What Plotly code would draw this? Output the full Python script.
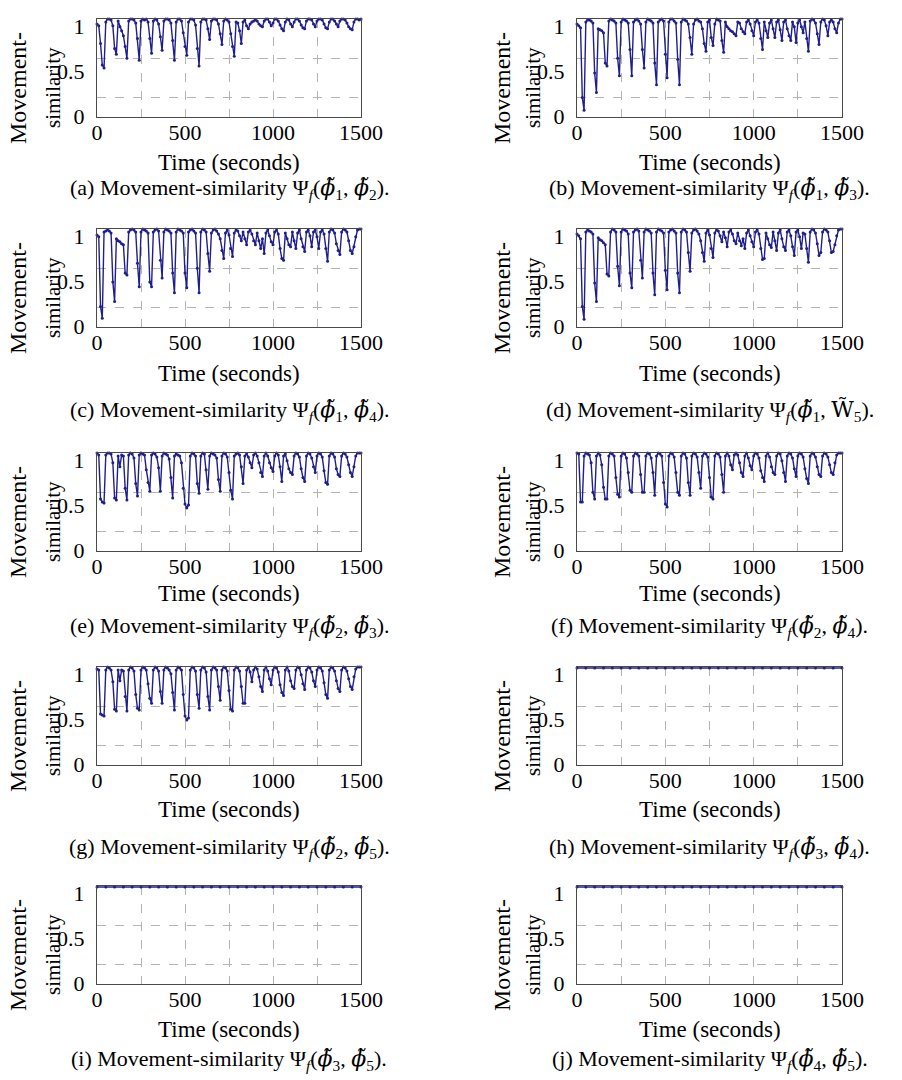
import plotly.graph_objects as go

# sample times (s) for the measured series, and a coarser grid for the flat ones
TIME = list(range(0, 1501, 10))
FLAT_TIME = list(range(0, 1501, 50))

SIM_A = [
    0.95, 0.93, 0.75, 0.53, 0.50, 0.97, 1.0, 1.0, 0.99, 0.93,
    0.70, 0.64, 0.98, 0.92, 0.88, 0.83, 0.72, 0.60, 0.98, 1.0,
    1.0, 0.99, 0.96, 0.80, 0.58, 0.98, 1.0, 0.99, 1.0, 0.97,
    0.80, 0.65, 0.98, 1.0, 0.99, 0.95, 0.82, 0.68, 0.98, 1.0,
    1.0, 0.99, 0.96, 0.78, 0.58, 0.97, 1.0, 1.0, 0.98, 0.86,
    0.72, 0.63, 0.97, 1.0, 1.0, 0.99, 0.94, 0.70, 0.52, 0.97,
    1.0, 1.0, 0.99, 0.90, 0.79, 0.98, 1.0, 1.0, 0.99, 0.95,
    0.85, 0.74, 0.98, 1.0, 0.99, 0.97, 0.85, 0.72, 0.62, 0.97,
    0.96, 0.88, 0.75, 0.97, 0.99, 0.93, 0.90, 0.95, 0.97, 0.98,
    0.99, 0.98, 0.95, 0.93, 0.92, 0.98, 1.0, 1.0, 0.97, 0.93,
    0.96, 1.0, 1.0, 0.98, 0.94, 0.90, 0.88, 0.97, 1.0, 0.99,
    0.95, 0.92, 0.97, 1.0, 1.0, 0.98, 0.94, 0.91, 0.90, 0.98,
    1.0, 1.0, 0.99, 0.95, 0.92, 0.98, 1.0, 1.0, 0.99, 0.95,
    0.91, 0.90, 0.97, 1.0, 1.0, 0.98, 0.95, 0.92, 0.98, 1.0,
    1.0, 0.99, 0.96, 0.92, 0.90, 0.89, 0.97, 1.0, 1.0, 0.99,
    1.0,
]

SIM_B = [
    0.95, 0.93, 0.91, 0.20, 0.07, 0.97, 0.99, 0.99, 0.98, 0.96,
    0.45, 0.25, 0.90, 0.89, 0.88, 0.86, 0.55, 0.52, 0.98, 1.0,
    0.99, 0.98, 0.96, 0.60, 0.42, 0.97, 1.0, 0.99, 0.98, 0.96,
    0.69, 0.42, 0.97, 0.99, 1.0, 0.98, 0.95, 0.69, 0.50, 0.97,
    1.0, 0.99, 0.98, 0.96, 0.55, 0.33, 0.97, 0.99, 1.0, 0.98,
    0.64, 0.40, 0.97, 1.0, 1.0, 0.98, 0.96, 0.59, 0.33, 0.97,
    1.0, 0.99, 0.98, 0.95, 0.81, 0.64, 0.95, 0.99, 1.0, 0.98,
    0.97, 0.90, 0.75, 0.67, 0.97, 0.99, 0.81, 0.73, 0.95, 1.0,
    0.99, 0.98, 0.78, 0.66, 0.97, 0.92, 0.90, 0.88, 0.87, 0.85,
    0.83, 0.97, 0.96, 0.90, 0.87, 0.85, 0.97, 0.99, 0.95, 0.88,
    0.83, 0.97, 0.99, 0.96, 0.80, 0.69, 0.97, 0.88, 0.81, 0.96,
    0.99, 0.90, 0.81, 0.97, 0.99, 0.89, 0.78, 0.97, 0.99, 0.90,
    0.83, 0.78, 0.97, 0.92, 0.76, 0.96, 0.99, 0.92, 0.86, 0.97,
    0.80, 0.67, 0.98, 1.0, 0.99, 0.96, 0.85, 0.74, 0.97, 1.0,
    0.99, 0.93, 0.83, 0.97, 0.99, 0.97, 0.90, 0.86, 0.96, 1.0,
    1.0,
]

SIM_C = [
    0.94, 0.92, 0.21, 0.09, 0.97, 0.98, 0.99, 0.98, 0.96, 0.46,
    0.26, 0.90, 0.88, 0.87, 0.85, 0.84, 0.55, 0.53, 0.97, 0.99,
    1.0, 0.99, 0.97, 0.65, 0.41, 0.97, 1.0, 0.99, 0.98, 0.96,
    0.46, 0.41, 0.97, 0.99, 1.0, 0.98, 0.68, 0.50, 0.97, 1.0,
    0.99, 0.98, 0.96, 0.55, 0.35, 0.97, 1.0, 0.99, 0.98, 0.96,
    0.55, 0.40, 0.97, 0.99, 1.0, 0.98, 0.96, 0.60, 0.35, 0.97,
    1.0, 0.99, 0.97, 0.75, 0.57, 0.96, 0.99, 1.0, 0.98, 0.95,
    0.90, 0.78, 0.70, 0.96, 0.99, 0.94, 0.80, 0.72, 0.96, 0.99,
    0.98, 0.93, 0.88, 0.97, 0.90, 0.84, 0.97, 0.99, 0.95, 0.88,
    0.84, 0.96, 0.88, 0.80, 0.90, 0.75, 0.96, 0.99, 0.93, 0.87,
    0.84, 0.97, 0.99, 0.95, 0.80, 0.70, 0.68, 0.96, 0.90, 0.84,
    0.82, 0.97, 0.88, 0.80, 0.96, 0.99, 0.90, 0.82, 0.77, 0.97,
    0.99, 0.93, 0.82, 0.97, 0.99, 0.92, 0.80, 0.97, 0.99, 0.95,
    0.80, 0.67, 0.97, 1.0, 0.99, 0.96, 0.85, 0.78, 0.74, 0.97,
    1.0, 0.99, 0.97, 0.88, 0.78, 0.75, 0.82, 0.92, 0.99, 1.0,
    1.0,
]

SIM_D = [
    0.95, 0.93, 0.90, 0.21, 0.08, 0.97, 0.99, 0.98, 0.97, 0.95,
    0.45, 0.26, 0.91, 0.89, 0.88, 0.86, 0.84, 0.54, 0.52, 0.97,
    1.0, 0.99, 0.97, 0.62, 0.42, 0.97, 1.0, 0.99, 0.98, 0.95,
    0.55, 0.40, 0.97, 0.99, 1.0, 0.98, 0.68, 0.50, 0.97, 1.0,
    0.99, 0.98, 0.96, 0.55, 0.33, 0.97, 1.0, 0.99, 0.98, 0.96,
    0.58, 0.38, 0.97, 0.99, 1.0, 0.98, 0.96, 0.55, 0.35, 0.97,
    1.0, 0.99, 0.97, 0.76, 0.57, 0.96, 0.99, 1.0, 0.98, 0.95,
    0.88, 0.76, 0.67, 0.96, 0.99, 0.94, 0.80, 0.71, 0.96, 0.99,
    0.98, 0.93, 0.87, 0.97, 0.91, 0.82, 0.97, 0.99, 0.95, 0.88,
    0.85, 0.96, 0.88, 0.83, 0.90, 0.80, 0.96, 0.99, 0.93, 0.87,
    0.82, 0.97, 0.99, 0.95, 0.80, 0.69, 0.70, 0.96, 0.90, 0.84,
    0.81, 0.97, 0.88, 0.78, 0.96, 0.99, 0.90, 0.82, 0.78, 0.97,
    0.99, 0.93, 0.82, 0.73, 0.97, 0.99, 0.92, 0.80, 0.96, 0.95,
    0.80, 0.66, 0.97, 1.0, 0.99, 0.96, 0.85, 0.73, 0.76, 0.97,
    1.0, 0.99, 0.97, 0.88, 0.76, 0.77, 0.84, 0.93, 0.99, 1.0,
    1.0,
]

SIM_E = [
    1.0, 0.98, 0.53, 0.50, 0.49, 0.98, 1.0, 1.0, 0.99, 0.90,
    0.54, 0.52, 0.97, 0.86, 0.98, 0.97, 0.64, 0.52, 0.98, 1.0,
    0.99, 0.95, 0.69, 0.56, 0.98, 1.0, 0.99, 0.98, 0.83, 0.70,
    0.61, 0.98, 1.0, 0.99, 0.96, 0.85, 0.61, 0.97, 1.0, 0.99,
    0.98, 0.94, 0.75, 0.54, 0.97, 0.99, 0.98, 0.97, 0.90, 0.64,
    0.48, 0.44, 0.47, 0.97, 1.0, 0.99, 0.97, 0.69, 0.59, 0.97,
    1.0, 0.99, 0.83, 0.63, 0.97, 1.0, 0.99, 0.98, 0.95, 0.73,
    0.61, 0.97, 1.0, 0.99, 0.96, 0.80, 0.62, 0.53, 0.97, 0.99,
    1.0, 0.98, 0.86, 0.69, 0.97, 0.99, 0.96, 0.90, 0.85, 0.98,
    1.0, 0.97, 0.90, 0.80, 0.76, 0.97, 1.0, 0.97, 0.90, 0.85,
    0.81, 0.97, 1.0, 0.98, 0.86, 0.71, 0.97, 0.99, 0.92, 0.84,
    0.80, 0.78, 0.97, 1.0, 0.99, 0.96, 0.84, 0.75, 0.71, 0.97,
    1.0, 0.99, 0.95, 0.86, 0.80, 0.97, 1.0, 0.99, 0.96, 0.82,
    0.70, 0.68, 0.97, 1.0, 0.99, 0.96, 0.84, 0.78, 0.76, 0.97,
    1.0, 0.99, 0.96, 0.88, 0.80, 0.76, 0.86, 0.97, 1.0, 1.0,
    1.0,
]

SIM_F = [
    1.0, 0.99, 0.50, 0.50, 0.97, 1.0, 0.99, 0.98, 0.90, 0.60,
    0.53, 0.97, 1.0, 0.98, 0.88, 0.65, 0.53, 0.53, 0.97, 1.0,
    0.99, 0.97, 0.75, 0.58, 0.55, 0.97, 1.0, 0.99, 0.95, 0.80,
    0.62, 0.60, 0.97, 1.0, 0.99, 0.97, 0.78, 0.60, 0.60, 0.97,
    1.0, 0.99, 0.95, 0.80, 0.57, 0.97, 1.0, 0.99, 0.97, 0.70,
    0.48, 0.45, 0.97, 1.0, 0.99, 0.96, 0.80, 0.60, 0.57, 0.97,
    1.0, 0.99, 0.95, 0.70, 0.57, 0.97, 1.0, 0.99, 0.96, 0.80,
    0.64, 0.97, 1.0, 0.99, 0.96, 0.75, 0.55, 0.53, 0.97, 1.0,
    0.99, 0.96, 0.78, 0.60, 0.97, 1.0, 0.97, 0.88, 0.83, 0.98,
    1.0, 0.98, 0.90, 0.80, 0.76, 0.97, 1.0, 0.95, 0.87, 0.83,
    0.97, 1.0, 0.99, 0.95, 0.82, 0.75, 0.71, 0.97, 1.0, 0.96,
    0.86, 0.80, 0.78, 0.97, 1.0, 0.99, 0.92, 0.80, 0.71, 0.97,
    1.0, 0.99, 0.95, 0.84, 0.76, 0.97, 1.0, 0.99, 0.96, 0.84,
    0.74, 0.69, 0.97, 1.0, 0.99, 0.96, 0.86, 0.78, 0.76, 0.97,
    1.0, 0.99, 0.96, 0.88, 0.80, 0.78, 0.90, 0.98, 1.0, 1.0,
    1.0,
]

SIM_G = [
    0.98, 0.97, 0.52, 0.51, 0.50, 0.97, 1.0, 0.99, 0.97, 0.85,
    0.57, 0.55, 0.97, 0.86, 0.97, 0.96, 0.70, 0.55, 0.97, 1.0,
    0.99, 0.96, 0.72, 0.58, 0.56, 0.97, 1.0, 0.99, 0.97, 0.83,
    0.68, 0.63, 0.97, 1.0, 0.99, 0.96, 0.75, 0.63, 0.97, 1.0,
    0.99, 0.97, 0.93, 0.74, 0.56, 0.97, 1.0, 0.99, 0.97, 0.72,
    0.50, 0.46, 0.48, 0.97, 1.0, 0.99, 0.96, 0.72, 0.58, 0.97,
    1.0, 0.99, 0.95, 0.70, 0.56, 0.97, 1.0, 0.99, 0.97, 0.80,
    0.66, 0.97, 1.0, 0.99, 0.96, 0.76, 0.57, 0.55, 0.97, 1.0,
    0.99, 0.96, 0.80, 0.63, 0.63, 0.97, 1.0, 0.95, 0.85, 0.97,
    1.0, 0.98, 0.90, 0.80, 0.75, 0.97, 1.0, 0.96, 0.88, 0.82,
    0.97, 1.0, 0.99, 0.95, 0.82, 0.74, 0.71, 0.97, 1.0, 0.96,
    0.86, 0.80, 0.78, 0.97, 1.0, 0.99, 0.92, 0.83, 0.77, 0.97,
    1.0, 0.99, 0.95, 0.86, 0.80, 0.97, 1.0, 0.99, 0.96, 0.84,
    0.72, 0.68, 0.97, 1.0, 0.99, 0.96, 0.86, 0.78, 0.75, 0.97,
    1.0, 0.99, 0.96, 0.88, 0.80, 0.77, 0.90, 0.98, 1.0, 1.0,
    1.0,
]

FLAT_H = [0.99, 0.99, 0.99, 0.99, 0.99, 0.99, 0.99, 0.99, 0.99, 0.99, 0.99,
          0.99, 0.99, 0.99, 0.99, 0.99, 0.99, 0.99, 0.99, 0.99, 0.99,
          0.99, 0.99, 0.99, 0.99, 0.99, 0.99, 0.99, 0.99, 0.99, 0.99]
FLAT_I = [0.99, 0.99, 0.99, 0.99, 0.99, 0.99, 0.99, 0.99, 0.99, 0.99, 0.99,
          0.99, 0.99, 0.99, 0.99, 0.99, 0.99, 0.99, 0.99, 0.99, 0.99,
          0.99, 0.99, 0.99, 0.99, 0.99, 0.99, 0.99, 0.99, 0.99, 0.99]
FLAT_J = [0.99, 0.99, 0.99, 0.99, 0.99, 0.99, 0.99, 0.99, 0.99, 0.99, 0.99,
          0.99, 0.99, 0.99, 0.99, 0.99, 0.99, 0.99, 0.99, 0.99, 0.99,
          0.99, 0.99, 0.99, 0.99, 0.99, 0.99, 0.99, 0.99, 0.99, 0.99]

X_TICKS = [0, 500, 1000, 1500]
Y_TICK_TEXT = ["0", "0.5", "1"]

PANELS = [
    ("a", TIME, SIM_A, ("ϕ", "1"), ("ϕ", "2")),
    ("b", TIME, SIM_B, ("ϕ", "1"), ("ϕ", "3")),
    ("c", TIME, SIM_C, ("ϕ", "1"), ("ϕ", "4")),
    ("d", TIME, SIM_D, ("ϕ", "1"), ("W", "5")),
    ("e", TIME, SIM_E, ("ϕ", "2"), ("ϕ", "3")),
    ("f", TIME, SIM_F, ("ϕ", "2"), ("ϕ", "4")),
    ("g", TIME, SIM_G, ("ϕ", "2"), ("ϕ", "5")),
    ("h", FLAT_TIME, FLAT_H, ("ϕ", "3"), ("ϕ", "4")),
    ("i", FLAT_TIME, FLAT_I, ("ϕ", "3"), ("ϕ", "5")),
    ("j", FLAT_TIME, FLAT_J, ("ϕ", "4"), ("ϕ", "5")),
]

for _, t, v, _, _ in PANELS:
    assert len(t) == len(v), (len(t), len(v))

# layout, in pixels of the 902x1080 page
W, H = 902, 1080
COL_LEFT = [97, 577]
COL_RIGHT = [361, 842]
ROW_TOP = [19, 229, 453, 667, 886]
PLOT_H = 98
TIME_GAP = [45, 46, 42, 44, 45]
CAPTION_GAP = [72, 84, 76, 83, 76]
YLAB_SHIFT = [-79, -75]

FONT = "Liberation Serif, Times New Roman, serif"
LINE_COLOR = "#1f1f8c"
GRID = dict(showgrid=True, gridcolor="#b4b4b4", griddash="dash", gridwidth=1)
TEXT = dict(showarrow=False, xanchor="center", yanchor="middle")


def sym(letter, sub):
    # tilde-accented symbol; DejaVu Serif keeps the combining mark on its base
    style = "font-family:'DejaVu Serif'"
    if letter != "W":
        style += ";font-style:italic"
    return f"<span style=\"{style}\">{letter}\u0303</span><sub>{sub}</sub>"


def caption(tag, first, second):
    return (f"({tag}) Movement-similarity Ψ<sub><i>f</i></sub>"
            f"({sym(*first)}, {sym(*second)}).")


fig = go.Figure()
annotations = []
layout = {}

for k, (tag, t, vals, first, second) in enumerate(PANELS):
    row, col = divmod(k, 2)
    n = k + 1
    xname = "x" if n == 1 else f"x{n}"
    yname = "y" if n == 1 else f"y{n}"

    fig.add_trace(go.Scatter(
        x=t, y=vals, xaxis=xname, yaxis=yname, mode="lines+markers",
        line=dict(color=LINE_COLOR, width=1.4),
        marker=dict(size=3, color=LINE_COLOR),
        cliponaxis=False, showlegend=False,
    ))

    top = ROW_TOP[row]
    layout["xaxis" if n == 1 else f"xaxis{n}"] = dict(
        domain=[COL_LEFT[col] / W, COL_RIGHT[col] / W],
        anchor=yname, range=[0, 1500], tickvals=X_TICKS, automargin=False,
        ticks="", ticklabelstandoff=-4,
        showline=True, mirror=True, linecolor="#4a4a4a", linewidth=1,
        tickfont=dict(family=FONT, size=22, color="black"),
        zeroline=False, **GRID,
        minor=dict(dtick=250, tick0=0, **GRID),
    )
    layout["yaxis" if n == 1 else f"yaxis{n}"] = dict(
        domain=[1 - (top + PLOT_H) / H, 1 - top / H],
        anchor=xname, range=[0, 1], automargin=False,
        tickmode="array", tickvals=[0.01, 0.47, 0.93], ticktext=Y_TICK_TEXT,
        ticks="", ticklabelstandoff=7, showgrid=False, zeroline=False,
        showline=True, mirror=True, linecolor="#4a4a4a", linewidth=1,
        tickfont=dict(family=FONT, size=22, color="black"),
        minor=dict(tickmode="array", tickvals=[0.2, 0.6], **GRID),
    )

    xd, yd = f"{xname} domain", f"{yname} domain"
    annotations += [
        dict(text="Movement-", xref=xd, yref=yd, x=0, y=0.5,
             xshift=YLAB_SHIFT[col], yshift=-20, textangle=-90,
             font=dict(family=FONT, size=24, color="black"), **TEXT),
        dict(text="similarity", xref=xd, yref=yd, x=0, y=0.5,
             xshift=-44, yshift=-20, textangle=-90,
             font=dict(family=FONT, size=21, color="black"), **TEXT),
        dict(text="Time (seconds)", xref=xd, yref=yd, x=0.5, y=0,
             yshift=-TIME_GAP[row],
             font=dict(family=FONT, size=23, color="black"), **TEXT),
        dict(text=caption(tag, first, second), xref=xd, yref=yd, x=0.5, y=0,
             yshift=-CAPTION_GAP[row],
             font=dict(family=FONT, size=22, color="black"), **TEXT),
    ]

fig.update_layout(
    width=W, height=H,
    margin=dict(l=0, r=0, t=0, b=0),
    paper_bgcolor="white", plot_bgcolor="white",
    annotations=annotations,
    **layout,
)

# the page body's default 8px margin would push the figure off its grid
fig.write_html("out.html", config={"displayModeBar": False},
               post_script="document.body.style.margin = '0';")
